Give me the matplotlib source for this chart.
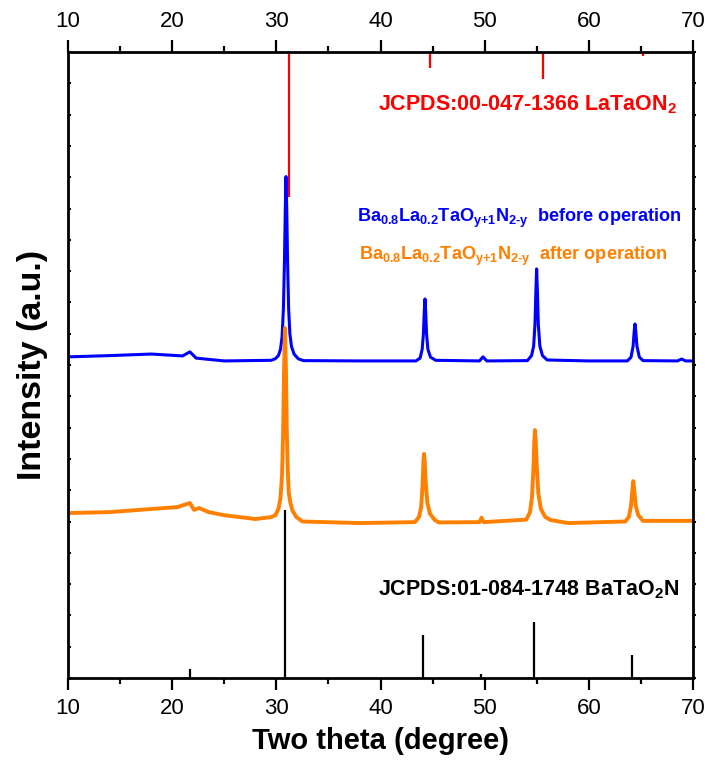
import matplotlib
matplotlib.use("Agg")
import matplotlib.pyplot as plt
from matplotlib.ticker import MultipleLocator, NullFormatter

plt.rcParams['font.family'] = ['Liberation Sans', 'DejaVu Sans']
plt.rcParams['mathtext.fontset'] = 'custom'
plt.rcParams['mathtext.rm'] = 'Liberation Sans:bold'
plt.rcParams['mathtext.it'] = 'Liberation Sans:bold'
plt.rcParams['mathtext.bf'] = 'Liberation Sans:bold'
plt.rcParams['mathtext.sf'] = 'Liberation Sans:bold'

# ---- data (y in arbitrary offset units) ----
before_x = [10.0, 14.0, 18.0, 21.0, 21.7, 22.3, 25.0,
            29.5, 29.9, 30.2, 30.4, 30.55, 30.68, 30.78, 30.86, 30.93, 31.0, 31.08, 31.18, 31.3, 31.45, 31.7, 32.1, 32.6,
            38.0, 43.4, 43.8, 44.0, 44.12, 44.2, 44.27, 44.34, 44.42, 44.55, 44.8, 45.3,
            49.5, 49.84, 50.2,
            54.1, 54.5, 54.7, 54.83, 54.92, 54.99, 55.06, 55.15, 55.3, 55.55, 56.0, 60.0,
            63.7, 64.05, 64.25, 64.36, 64.43, 64.5, 64.62, 64.85, 65.2,
            68.5, 68.9, 69.3, 70.0]
before_y = [10.26, 10.30, 10.35, 10.29, 10.42, 10.22, 10.13,
            10.15, 10.2, 10.3, 10.5, 10.9, 11.8, 13.3, 15.0, 16.02, 15.0, 13.3, 11.8, 11.0, 10.6, 10.35, 10.2, 10.14,
            10.13, 10.13, 10.22, 10.5, 11.0, 11.7, 12.11, 11.7, 11.0, 10.5, 10.25, 10.15,
            10.13, 10.26, 10.13,
            10.14, 10.3, 10.6, 11.3, 12.4, 13.07, 12.4, 11.3, 10.6, 10.3, 10.16, 10.13,
            10.13, 10.25, 10.6, 11.1, 11.31, 11.1, 10.6, 10.25, 10.14,
            10.13, 10.19, 10.13, 10.13]

after_x = [10.0, 14.0, 18.0, 20.5, 21.7, 22.1, 22.6, 23.5, 25.0, 28.0,
           29.5, 29.9, 30.2, 30.4, 30.55, 30.65, 30.74, 30.83, 30.92, 31.0, 31.1, 31.2, 31.35, 31.55, 31.9, 32.5,
           38.0, 43.3, 43.7, 43.9, 44.03, 44.12, 44.18, 44.25, 44.35, 44.5, 44.75, 45.2, 45.6,
           49.5, 49.7, 49.9,
           54.0, 54.35, 54.55, 54.68, 54.77, 54.83, 54.9, 55.0, 55.15, 55.4, 55.8, 56.3, 58.0,
           63.5, 63.85, 64.05, 64.18, 64.27, 64.36, 64.5, 64.75, 65.2, 70.0]
after_y = [5.27, 5.30, 5.40, 5.46, 5.59, 5.37, 5.43, 5.30, 5.20, 5.08,
           5.14, 5.2, 5.4, 5.75, 6.5, 7.8, 9.8, 11.18, 9.9, 8.0, 6.6, 5.9, 5.6, 5.35, 5.15, 5.0,
           4.95, 4.98, 5.15, 5.45, 6.1, 6.9, 7.16, 6.9, 6.2, 5.6, 5.25, 5.05, 4.97,
           4.98, 5.12, 4.98,
           5.06, 5.3, 5.8, 6.7, 7.6, 7.92, 7.6, 6.8, 5.9, 5.4, 5.15, 5.05, 4.95,
           5.0, 5.15, 5.5, 6.0, 6.29, 6.0, 5.5, 5.2, 5.02, 5.02]

batao2n_pos = [21.7, 30.83, 44.11, 49.65, 54.77, 64.18]
batao2n_int = [0.29, 5.37, 1.37, 0.13, 1.79, 0.73]

lataon2_pos = [31.22, 44.75, 55.63, 65.23]
lataon2_int = [4.63, 0.51, 0.86, 0.13]

x_ticks = [10, 20, 30, 40, 50, 60, 70]

BLUE = '#0000FF'
ORANGE = '#FF8000'
RED = '#FF0000'

fig = plt.figure(figsize=(7.12, 7.66), dpi=100)
ax = fig.add_axes([68/712, 1-678/766, (693-68)/712, (678-52)/766])

ax.plot(before_x, before_y, color=BLUE, lw=2.2, solid_joinstyle='round')
ax.plot(after_x, after_y, color=ORANGE, lw=2.8, solid_joinstyle='round')
ax.vlines(batao2n_pos, 0, batao2n_int, color='black', lw=1.6)
ax.vlines(lataon2_pos, [20 - h for h in lataon2_int], 20, color=RED, lw=1.6)

ax.set_xlim(10, 70)
ax.set_ylim(0, 20)
ax.set_xticks(x_ticks)
ax.xaxis.set_minor_locator(MultipleLocator(5))
ax.yaxis.set_major_locator(MultipleLocator(1))
ax.yaxis.set_major_formatter(NullFormatter())

for s in ax.spines.values():
    s.set_linewidth(2.0)

ax.tick_params(axis='x', which='both', top=True, bottom=True, labeltop=True, labelbottom=True,
               direction='out', width=1.6, labelsize=16, pad=6)
ax.tick_params(axis='x', which='major', length=8.5)
ax.tick_params(axis='x', which='minor', length=4.3)
ax.tick_params(axis='y', which='major', left=True, right=False, direction='in', length=2.5, width=1.5)

ax2 = ax.twinx()
ax2.set_ylim(0, 20)
ax2.yaxis.set_major_locator(MultipleLocator(1))
ax2.yaxis.set_major_formatter(NullFormatter())
ax2.tick_params(axis='y', which='major', direction='out', length=2.5, width=1.5)
for s in ax2.spines.values():
    s.set_visible(False)

ax.set_xlabel('Two theta (degree)', fontsize=21, fontweight='bold', labelpad=6)
ax.set_ylabel('Intensity (a.u.)', fontsize=24.5, fontweight='bold', labelpad=11)

ax.text(39.76, 18.15, 'JCPDS:00-047-1366 LaTaON$_2$', color=RED, fontsize=15.5, fontweight='bold',
        ha='left', va='baseline')
ax.text(37.75, 14.58, r'Ba$_{\text{0.8}}$La$_{\text{0.2}}$TaO$_{\text{y+1}}$N$_{\text{2-y}}$  before operation',
        color=BLUE, fontsize=13.1, fontweight='bold', ha='left', va='baseline')
ax.text(37.95, 13.35, r'Ba$_{\text{0.8}}$La$_{\text{0.2}}$TaO$_{\text{y+1}}$N$_{\text{2-y}}$  after operation',
        color=ORANGE, fontsize=13.1, fontweight='bold', ha='left', va='baseline')
ax.text(39.76, 2.65, 'JCPDS:01-084-1748 BaTaO$_2$N', color='black', fontsize=15.5, fontweight='bold',
        ha='left', va='baseline')

fig.savefig('out.png', dpi=100)
